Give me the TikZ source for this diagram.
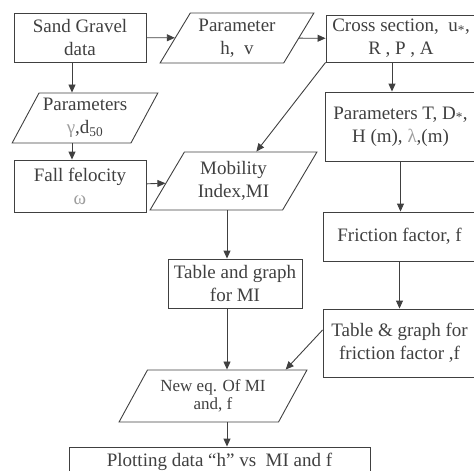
\documentclass[tikz,border=0pt]{standalone}
\usepackage{fontspec}
\setmainfont{Liberation Serif}
\usepackage{xcolor}
\usepackage{tikz}
\usetikzlibrary{arrows.meta}
\usetikzlibrary{shapes.geometric, calc}

\definecolor{inkgray}{gray}{0.25}
\definecolor{symgray}{gray}{0.62}

\tikzset{
  procbox/.style={draw=inkgray, line width=0.9pt, rectangle, align=center, inner sep=0pt, text=inkgray, font=\fontsize{19}{23}\selectfont},
  iobox/.style={draw=inkgray, line width=0.9pt, trapezium, trapezium stretches=true, align=center, inner sep=0pt, text=inkgray, font=\fontsize{19}{23}\selectfont},
  flow/.style={draw=inkgray, line width=0.9pt, -{Triangle[length=8pt,width=7pt]}}
}

\begin{document}
\begin{tikzpicture}[x=1pt,y=-1pt]
                \useasboundingbox (0,0) rectangle (474,471);
                \clip (0,0) rectangle (474,471);
                % Left column
                \node[procbox, minimum width=132pt, minimum height=49pt] (sand) at (80,37.5) {Sand Gravel\\data};
                \node[iobox, minimum width=146pt, minimum height=50pt, trapezium left angle=58, trapezium right angle=122] (gamma) at (85,118) {Parameters\\{\color{symgray}γ},d\textsubscript{50}};
                \node[procbox, minimum width=132pt, minimum height=52pt] (fall) at (80,186) {Fall felocity\\{\color{symgray}ω}};
                % Middle column
                \node[iobox, minimum width=154pt, minimum height=50pt, trapezium left angle=57, trapezium right angle=123] (hv) at (237,38) {Parameter\\h,~~v};
                \node[iobox, minimum width=167pt, minimum height=58pt, trapezium left angle=57.5, trapezium right angle=122.5] (mob) at (233.5,181) {Mobility\\Index,MI};
                \node[procbox, minimum width=134pt, minimum height=49pt] (tabmi) at (235,283.5) {Table and graph\\for MI};
                \node[iobox, minimum width=188pt, minimum height=52pt, trapezium left angle=55, trapezium right angle=125, font=\fontsize{17}{18}\selectfont] (neweq) at (213,396) {New eq. Of MI\\and, f};
                \node[procbox, minimum width=301pt, minimum height=29pt] (plot) at (219.5,461.5) {Plotting data ``h''~vs~ MI and f};
                % Right column
                \node[procbox, minimum width=150pt, minimum height=47pt] (cross) at (401,38.5) {Cross section,~ u\textsubscript{*},\\R , P , A};
                \node[procbox, minimum width=151pt, minimum height=69pt] (parT) at (400.5,126.5) {Parameters T, D\textsubscript{*},\\H (m), {\color{symgray}λ},(m)};
                \node[procbox, minimum width=153pt, minimum height=49pt] (fric) at (399.5,236.5) {Friction factor, f};
                \node[procbox, minimum width=153pt, minimum height=68pt] (tabf) at (399.5,343) {Table \& graph for\\friction factor ,f};
                % Connectors
                \draw[flow] (sand) -- (hv);
                \draw[flow] (hv) -- (cross);
                \draw[flow] ([xshift=-8pt]sand.south) -- ([xshift=-8pt]sand.south |- gamma.north);
                \draw[flow] ([xshift=-8pt]fall.north |- gamma.south) -- ([xshift=-8pt]fall.north);
                \draw[flow] (fall) -- (mob);
                \draw[flow] (cross.south west) -- (mob);
                \draw[flow] ([xshift=-9pt]cross.south) -- ([xshift=-9pt]cross.south |- parT.north);
                \draw[flow] (parT.south) -- (parT.south |- fric.north);
                \draw[flow] (fric.south) -- (fric.south |- tabf.north);
                \draw[flow] ([xshift=-8pt]tabmi.north |- mob.south) -- ([xshift=-8pt]tabmi.north);
                \draw[flow] ([xshift=-8pt]tabmi.south) -- ([xshift=-8pt]tabmi.south |- neweq.north);
                \draw[flow] ([yshift=13pt]tabf.west) -- ([xshift=-22pt]neweq.top right corner);
                \draw[flow] ([xshift=-8pt]tabmi.south |- neweq.south) -- ([xshift=-8pt]tabmi.south |- plot.north);
            \end{tikzpicture}
\end{document}
